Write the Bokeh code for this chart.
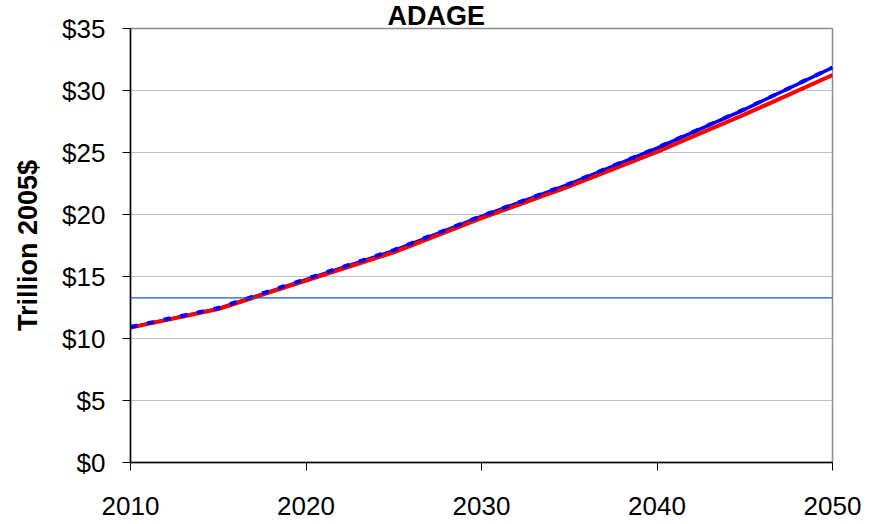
from bokeh.plotting import figure
from bokeh.models import Range1d, FixedTicker, Span, CustomJSTickFormatter
from bokeh.embed import file_html
from bokeh.resources import INLINE

# ---- data ----
years = [2010, 2015, 2020, 2025, 2030, 2035, 2040, 2045, 2050]
series_red = [10.88, 12.38, 14.66, 16.95, 19.70, 22.27, 25.05, 28.07, 31.24]
series_blue = [10.90, 12.41, 14.74, 17.08, 19.84, 22.45, 25.35, 28.48, 31.85]
series_blue_dash = [10.93, 12.46, 14.80, 17.13, 19.88, 22.48, 25.38, 28.50, 31.86]

y_ticks = [0, 5, 10, 15, 20, 25, 30, 35]
x_ticks = [2010, 2020, 2030, 2040, 2050]
title_text = "ADAGE"
y_label = "Trillion 2005$"
ref_line_value = 13.27

FONT = "Liberation Sans"

p = figure(width=878, height=524, output_backend="svg", toolbar_location=None,
           x_range=Range1d(2010, 2050), y_range=Range1d(0, 35),
           frame_width=702, frame_height=434,
           min_border_left=130, min_border_right=46,
           min_border_top=28, min_border_bottom=62,
           background_fill_color="white", border_fill_color="white")

p.outline_line_color = "#8c8c8c"
p.outline_line_width = 1.5

# title
p.title.text = title_text
p.title.align = "left"
p.title.offset = 257
p.title.standoff = -4
p.title.text_font = FONT
p.title.text_font_size = "27px"
p.title.text_font_style = "bold"
p.title.text_color = "black"

# grid
p.xgrid.grid_line_color = None
p.ygrid.grid_line_color = "#c0c0c0"
p.ygrid.grid_line_width = 1
p.ygrid.ticker = FixedTicker(ticks=y_ticks)

# axes
p.yaxis.ticker = FixedTicker(ticks=y_ticks)
p.xaxis.ticker = FixedTicker(ticks=x_ticks)
p.yaxis.formatter = CustomJSTickFormatter(code="return '$' + tick.toFixed(0);")
for ax in (p.xaxis[0], p.yaxis[0]):
    ax.axis_line_color = "black"
    ax.axis_line_width = 1.5
    ax.major_tick_line_color = "black"
    ax.major_tick_line_width = 1
    ax.major_tick_out = 8
    ax.major_tick_in = 0
    ax.minor_tick_line_color = None
    ax.major_label_text_font = FONT
    ax.major_label_text_font_size = "26px"
    ax.major_label_text_color = "black"

p.yaxis.major_label_standoff = 17
p.xaxis.major_label_standoff = 26
p.yaxis.axis_label = y_label
p.yaxis.axis_label_text_font = FONT
p.yaxis.axis_label_text_font_size = "27px"
p.yaxis.axis_label_text_font_style = "bold"
p.yaxis.axis_label_text_color = "black"
p.yaxis.axis_label_standoff = 16

# series
p.line(years, series_blue, line_color="#0000ff", line_width=3.5)
p.line(years, series_red, line_color="#ff0000", line_width=4)
p.line(years, series_blue_dash, line_color="#0000ff", line_width=4, line_dash="7 10")

# thin blue horizontal rule
p.add_layout(Span(location=ref_line_value, dimension="width",
                  line_color="#1a56c0", line_width=1.2))

open("out.html", "w").write(file_html(p, INLINE))
